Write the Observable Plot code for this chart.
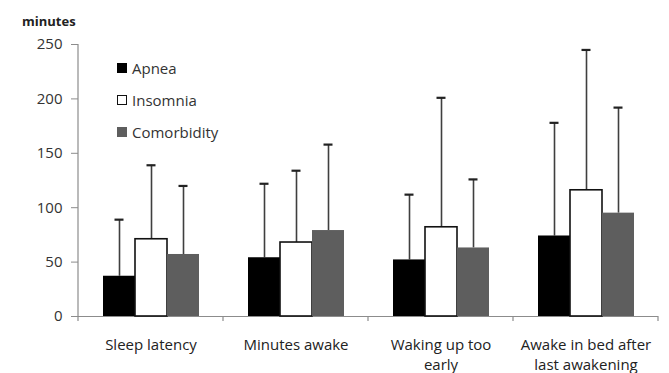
<!DOCTYPE html>
<html>
<head>
<meta charset="utf-8">
<script src="https://cdn.jsdelivr.net/npm/d3@7"></script>
<script src="https://cdn.jsdelivr.net/npm/@observablehq/plot@0.6"></script>
<style>
  html, body { margin: 0; padding: 0; background: #fff; }
  #wrap { position: relative; width: 669px; height: 373px; font-family: "Open Sans", sans-serif; }
  #legend { position: absolute; left: 117px; top: 58px; font-size: 15px; color: #333; }
  #legend .row { display: flex; align-items: center; height: 20px; margin-bottom: 12px; }
  #legend .sw { width: 10px; height: 10px; margin-right: 5px; box-sizing: border-box; }
  #ylabel { position: absolute; left: 22px; top: 12px; font-size: 13px; font-weight: bold; color: #222; }
</style>
</head>
<body>
<div id="wrap">
  <div id="ylabel">minutes</div>
  <div id="legend"></div>
</div>
<script>
const categories = ["Sleep latency", "Minutes awake", "Waking up too early", "Awake in bed after last awakening"];
const categoryLabels = ["Sleep latency", "Minutes awake", "Waking up too\nearly", "Awake in bed after\nlast awakening"];
const series = ["Apnea", "Insomnia", "Comorbidity"];
const apneaMean = [37, 54, 52, 74];
const apneaErr = [89, 122, 112, 178];
const insomniaMean = [71, 68, 82, 116];
const insomniaErr = [139, 134, 201, 245];
const comorbidityMean = [57, 79, 63, 95];
const comorbidityErr = [120, 158, 126, 192];
const yTicks = [0, 50, 100, 150, 200, 250];
const fills = ["#000000", "#ffffff", "#5e5e5e"];

const means = [apneaMean, insomniaMean, comorbidityMean];
const errs = [apneaErr, insomniaErr, comorbidityErr];
const data = [];
categories.forEach((c, i) => series.forEach((s, j) => data.push({category: c, series: s, mean: means[j][i], top: errs[j][i]})));

const chart = Plot.plot({
  width: 669,
  height: 373,
  marginLeft: 77,
  marginRight: 10,
  marginTop: 44,
  marginBottom: 57,
  style: {fontFamily: "Open Sans, sans-serif", fontSize: "15px", color: "#222", background: "transparent"},
  fx: {domain: categories, padding: 0, label: null},
  x: {domain: series, paddingInner: 0, paddingOuter: 0.74, axis: null},
  y: {domain: [0, 250], label: null},
  color: {domain: series, range: fills},
  marks: [
    Plot.ruleY([0], {stroke: "#8c8c8c", strokeWidth: 1.2}),
    Plot.axisY({ticks: yTicks, tickSize: 7, tickPadding: 9, stroke: "#8c8c8c", fill: "#333", fontSize: 15, label: null}),
    Plot.axisFx({anchor: "bottom", tickSize: 0, tickPadding: 20, fill: "#222", fontSize: 15, lineHeight: 1.3,
      tickFormat: d => categoryLabels[categories.indexOf(d)], label: null}),
    Plot.ruleX(data, {fx: "category", x: "series", y1: "mean", y2: "top", stroke: "#3f3f3f", strokeWidth: 1.6}),
    Plot.tickY(data, {fx: "category", x: "series", y: "top", stroke: "#222", strokeWidth: 2.2, insetLeft: 11.5, insetRight: 11.5}),
    Plot.barY(data, {fx: "category", x: "series", y: "mean", fill: "series",
      stroke: d => d.series === "Insomnia" ? "#111" : "none", strokeWidth: 1.6})
  ]
});
document.getElementById("wrap").prepend(chart);
chart.style.position = "absolute";
chart.style.left = "0";
chart.style.top = "0";

// y axis line and boundary tick marks between categories, from the scales
const fx = chart.scale("fx");
const y = chart.scale("y");
const svg = d3.select(chart);
const edges = [];
categories.forEach((c, i) => { const a = fx.apply(c); if (i === 0) edges.push(a); edges.push(a + fx.bandwidth); });
const g = svg.append("g").attr("stroke", "#8c8c8c").attr("stroke-width", 1.2);
g.append("line")
  .attr("x1", edges[0]).attr("x2", edges[0])
  .attr("y1", y.apply(yTicks[yTicks.length - 1])).attr("y2", y.apply(0));
g.selectAll("line.edge").data(edges).join("line").attr("class", "edge")
  .attr("x1", d => d).attr("x2", d => d)
  .attr("y1", y.apply(0)).attr("y2", y.apply(0) + 5);

// legend
const legend = d3.select("#legend");
series.forEach((s, j) => {
  const row = legend.append("div").attr("class", "row");
  row.append("div").attr("class", "sw").style("background", fills[j])
    .style("border", j === 1 ? "1.5px solid #111" : "none");
  row.append("span").text(s);
});
</script>
</body>
</html>
